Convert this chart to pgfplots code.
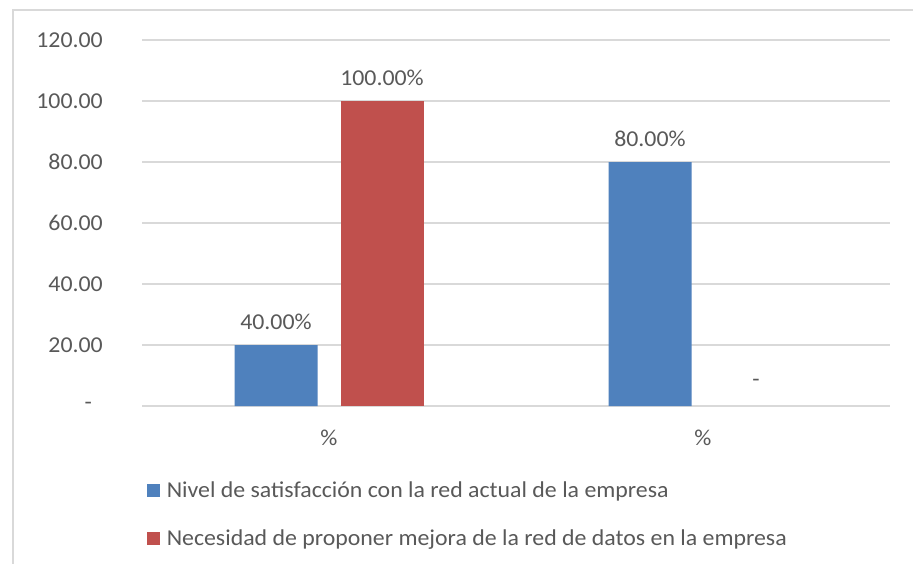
\documentclass[border=0pt]{standalone}
\usepackage{pgfplots}
\pgfplotsset{compat=1.18}
\usepackage{fontspec}
\setmainfont{Carlito}[FakeStretch=1.05]
\definecolor{serieA}{HTML}{4F81BD}
\definecolor{serieB}{HTML}{C0504D}
\definecolor{rejilla}{HTML}{D9D9D9}
\definecolor{texto}{HTML}{595959}
\newcommand{\letra}{\fontsize{22.7bp}{27bp}\selectfont}

\begin{document}
\begin{tikzpicture}
\useasboundingbox (0,0) rectangle (913bp,-564bp);
\begin{scope}
  \clip (0,0) rectangle (913bp,-564bp);
  \fill[white] (0,0) rectangle (913bp,-564bp);
  \draw[rejilla, line width=1.3bp] (13bp,-10bp) rectangle (1000bp,-700bp);
\end{scope}
\begin{axis}[
  at={(142bp,-406bp)}, anchor=south west,
  scale only axis, width=748bp, height=366bp,
  ybar, bar width=83bp,
  xmin=-0.5, xmax=1.5, ymin=0, ymax=120,
  xtick={0,1}, xticklabels={\%,\%},
  ytick={0,20,40,60,80,100,120},
  yticklabels={{-\hspace*{11bp}},20.00,40.00,60.00,80.00,100.00,120.00},
  ymajorgrids, grid style={rejilla, line width=1.3bp},
  axis line style={draw=none},
  major tick length=0pt,
  tick label style={font=\letra, text=texto, inner sep=0pt},
  yticklabel style={anchor=east, xshift=-39bp},
  xticklabel style={anchor=center, yshift=-32bp},
  point meta=explicit symbolic,
  nodes near coords,
  nodes near coords style={font=\letra, text=texto, anchor=center, yshift=23bp},
  legend style={at={(axis description cs:0.0061,-0.205)}, anchor=north west,
    draw=none, fill=none, inner sep=0pt, font=\letra, text=texto,
    row sep=28.5bp, column sep=6bp,
    nodes={inner sep=1pt}},
  legend cell align=left,
  legend image code/.code={\fill[#1] (0bp,-6.5bp) rectangle (13bp,6.5bp);},
]
% Nivel de satisfacción
\addplot[fill=serieA, draw=none, bar shift=-53bp]
  coordinates {(0,20) [40.00\%] (1,80) [80.00\%]};
% Necesidad de mejora
\addplot[fill=serieB, draw=none, bar shift=53bp]
  coordinates {(0,100) [100.00\%]};
% zero-height bar: only its label is visible
\addplot[fill=none, draw=none, bar shift=53bp, forget plot]
  coordinates {(1,0) [-]};
\legend{Nivel de satisfacción con la red actual de la empresa,
        Necesidad de proponer mejora de la red de datos en la empresa}
\end{axis}
\end{tikzpicture}
\end{document}
